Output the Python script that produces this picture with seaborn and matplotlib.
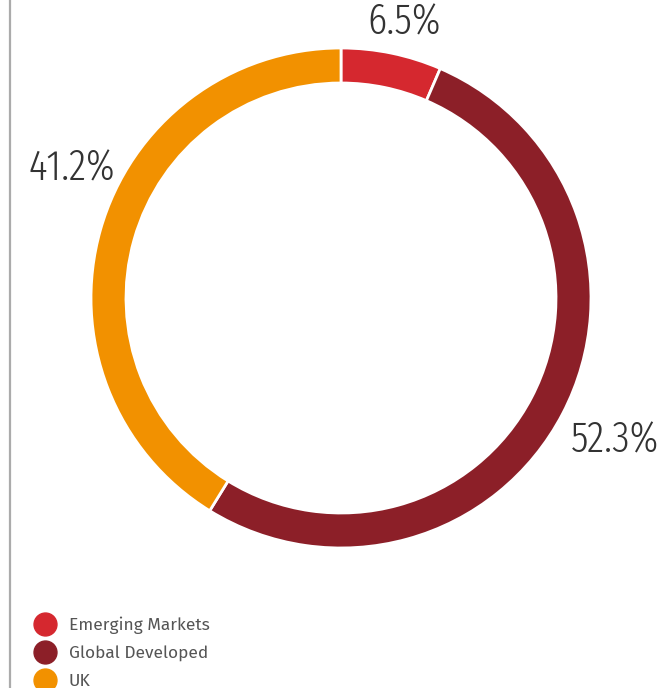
import matplotlib
matplotlib.use("Agg")
import matplotlib.pyplot as plt
from matplotlib.lines import Line2D
import seaborn as sns

# Portfolio allocation by region
categories = ["Emerging Markets", "Global Developed", "UK"]
shares = [6.5, 52.3, 41.2]
label_texts = ["6.5%", "52.3%", "41.2%"]

sns.set_theme(style="white")
palette = sns.color_palette(["#D5282F", "#8C1F28", "#F29100"])

W, H = 658, 688
fig = plt.figure(figsize=(W / 100, H / 100), dpi=100)
fig.patch.set_facecolor("white")

# donut centred at (341, 298) px with outer radius 250 px
cx, cy, R = 341, 298, 250
ax = fig.add_axes([(cx - R) / W, (H - cy - R) / H, 2 * R / W, 2 * R / H])
wedges, _ = ax.pie(
    shares,
    colors=palette,
    startangle=90,
    counterclock=False,
    radius=1.0,
    wedgeprops=dict(width=0.14, edgecolor="white", linewidth=2),
)
ax.set_xlim(-1, 1)
ax.set_ylim(-1, 1)
ax.set_aspect("equal")
ax.axis("off")

# value labels (pixel positions of their centres)
label_pos = [(404, 18), (615, 436), (72, 164)]
for txt, (px, py) in zip(label_texts, label_pos):
    fig.text(px / W, 1 - py / H, txt, ha="center", va="center_baseline",
             fontsize=31, color="#333333", fontweight=300,
             family=["Fira Sans Extra Condensed", "DejaVu Sans"])

# thin rule along the left edge
fig.add_artist(Line2D([10 / W, 10 / W], [0, 1], color="#ababab", lw=1.6,
                      transform=fig.transFigure))

# legend
handles = [Line2D([0], [0], marker="o", linestyle="none", markersize=16.5,
                  markerfacecolor=c, markeredgecolor=c) for c in palette]
leg = fig.legend(handles, categories, loc="upper left",
                 bbox_to_anchor=(26 / W, 1 - 608 / H), frameon=False,
                 handlelength=1.2, handletextpad=0.75, labelspacing=0.66,
                 borderpad=0,
                 prop=dict(family="Fira Sans", size=12.5, weight=400))
for t in leg.get_texts():
    t.set_color("#555555")

fig.savefig("out.png", dpi=100, facecolor="white")
